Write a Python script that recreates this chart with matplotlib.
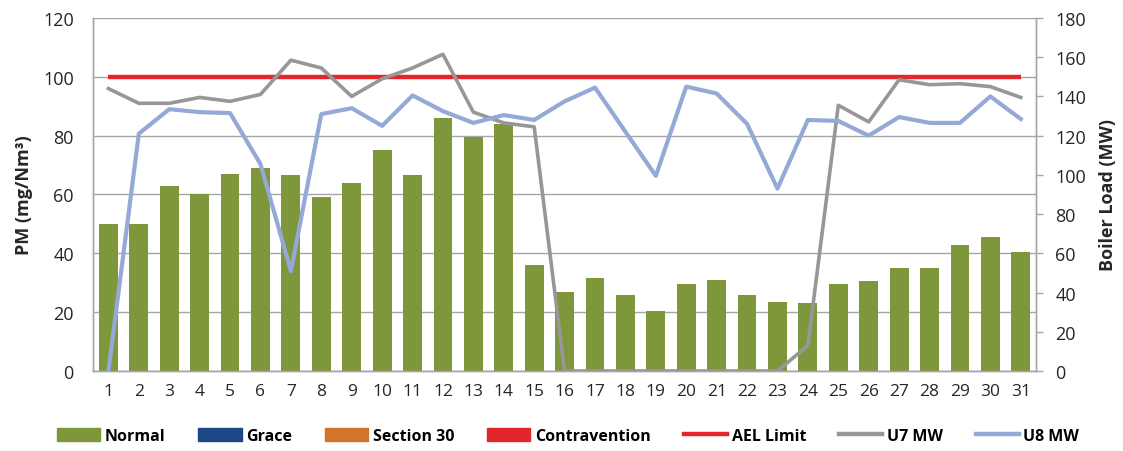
import matplotlib
matplotlib.use("Agg")
import matplotlib.pyplot as plt
import matplotlib.patches as mpatches
from matplotlib.lines import Line2D

days = list(range(1, 32))
pm_normal = [50, 50, 63, 60, 67, 69, 66.5, 59, 64, 75, 66.5, 86, 79.5, 84, 36,
             27, 31.5, 26, 20.5, 29.5, 31, 26, 23.5, 23, 29.5, 30.5, 35, 35, 43, 45.5, 40.5]
ael_limit = [100] * 31
u7_mw = [144, 136.5, 136.5, 139.5, 137.5, 141, 158.5, 154.5, 140, 149, 154.5, 161.5, 132, 126.5, 124.5,
         0, 0, 0, 0, 0, 0, 0, 0, 13, 135.5, 127, 148.5, 146, 146.5, 145, 139.5]
u8_mw = [0, 121, 133.5, 132, 131.5, 105.5, 51, 131, 134, 125, 140.5, 132.5, 126.5, 130.5, 128,
         137.5, 144.5, 122, 99.5, 145, 141.5, 126, 93, 128, 127.5, 120, 129.5, 126.5, 126.5, 140, 128.5]

GREEN = "#7e973b"
NAVY = "#1d4787"
ORANGE = "#d2742a"
RED = "#e3262b"
GRAY = "#979797"
BLUE = "#94a9d6"
GRID = "#a6a6a6"
TXT = "#262626"

plt.rcParams["font.family"] = ["Open Sans", "DejaVu Sans"]

fig = plt.figure(figsize=(11.23, 4.52), dpi=100)
ax1 = fig.add_axes([0.083, 0.177, 0.8395, 0.781])
ax2 = ax1.twinx()

ax1.bar(days, pm_normal, width=0.62, color=GREEN, zorder=2)
ax1.plot(days, ael_limit, color=RED, lw=3.2, zorder=3, solid_capstyle="butt")
ax2.plot(days, u7_mw, color=GRAY, lw=2.6, zorder=3)
ax2.plot(days, u8_mw, color=BLUE, lw=3.0, zorder=4)

ax1.set_xlim(0.5, 31.5)
ax1.set_ylim(0, 120)
ax1.set_yticks(range(0, 121, 20))
ax2.set_ylim(0, 180)
ax2.set_yticks(range(0, 181, 20))
ax1.set_xticks(days)

ax1.grid(axis="y", color=GRID, lw=1.0, zorder=0)
ax1.set_axisbelow(True)

for ax in (ax1, ax2):
    for s in ax.spines.values():
        s.set_color(GRID)
        s.set_linewidth(1.0)
ax1.spines["top"].set_visible(False)
ax2.spines["top"].set_visible(False)

ax1.tick_params(axis="x", length=0, labelsize=12.5, colors=TXT, pad=9)
ax1.tick_params(axis="y", length=0, labelsize=13, colors=TXT, pad=14)
ax2.tick_params(axis="y", length=5, width=1, color=GRID, labelsize=13, labelcolor=TXT, pad=9)

ax1.set_ylabel("PM (mg/Nm³)", fontsize=13, fontweight="bold", color=TXT, labelpad=7)
ax2.set_ylabel("Boiler Load (MW)", fontsize=13, fontweight="bold", color=TXT, labelpad=9)

handles = [
    mpatches.Patch(color=GREEN, label="Normal"),
    mpatches.Patch(color=NAVY, label="Grace"),
    mpatches.Patch(color=ORANGE, label="Section 30"),
    mpatches.Patch(color=RED, label="Contravention"),
    Line2D([], [], color=RED, lw=3.2, label="AEL Limit"),
    Line2D([], [], color=GRAY, lw=3.2, label="U7 MW"),
    Line2D([], [], color=BLUE, lw=3.2, label="U8 MW"),
]
fig.legend(handles=handles, loc="center", bbox_to_anchor=(0.506, 0.033), ncol=7,
           frameon=False, handlelength=2.7, handleheight=0.85, handletextpad=0.3,
           columnspacing=2.05, prop={"weight": "bold", "size": 11.5})

fig.savefig("out.png", dpi=100)
